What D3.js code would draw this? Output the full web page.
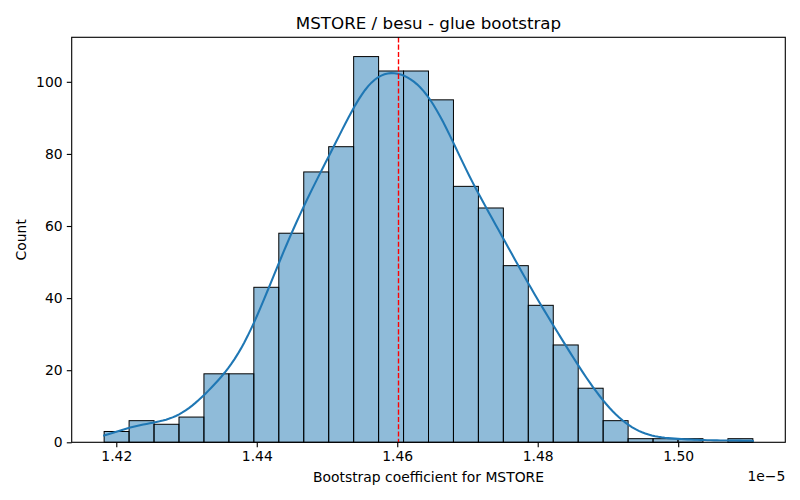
<!DOCTYPE html>
<html><head><meta charset="utf-8">
<script src="https://cdn.jsdelivr.net/npm/d3@7"></script>
<style>body{margin:0;background:#fff} svg text{font-family:"DejaVu Sans",sans-serif;fill:#000}</style>
</head><body><svg id="c" width="800" height="500"></svg>
<script>
// ---- data ----
const binStart = 1.41827;   // x1e-5
const binEnd = 1.51063;
const counts = [3,6,5,7,19,19,43,58,75,82,107,103,103,95,71,65,49,38,27,15,6,1,1,1,0,1];
const xTicks = [1.42,1.44,1.46,1.48,1.50];
const yTicks = [0,20,40,60,80,100];
const refLine = 1.46018;
const title = "MSTORE / besu - glue bootstrap";
const xLabel = "Bootstrap coefficient for MSTORE";
const yLabel = "Count";
const offsetText = "1e\u22125";

// ---- layout ----
const L = 71.7, R = 785.3, T = 37.3, B = 442.3;
const svg = d3.select("#c");
const nb = counts.length;
const bw = (binEnd - binStart) / nb;
const bins = counts.map((c, i) => ({x0: binStart + i*bw, x1: binStart + (i+1)*bw, c}));
const pad = (binEnd - binStart) * 0.05;
const x = d3.scaleLinear().domain([binStart - pad, binEnd + pad]).range([L, R]);
const y = d3.scaleLinear().domain([0, d3.max(counts)*1.05]).range([B, T]);

// bars
svg.append("g").selectAll("rect").data(bins).join("rect")
  .attr("x", d => x(d.x0)).attr("width", d => x(d.x1) - x(d.x0))
  .attr("y", d => y(d.c)).attr("height", d => B - y(d.c))
  .attr("fill", "#1f77b4").attr("fill-opacity", 0.5)
  .attr("stroke", "#000").attr("stroke-width", 1);

// KDE from the binned counts (gaussian, Scott bandwidth, cut=0)
const n = d3.sum(counts);
const centers = bins.map(b => (b.x0 + b.x1)/2);
const mean = d3.sum(bins, (b,i) => b.c*centers[i]) / n;
const variance = d3.sum(bins, (b,i) => b.c*(centers[i]-mean)**2) / (n-1);
const h = Math.sqrt(variance) * Math.pow(n, -1/5);
const grid = d3.range(200).map(i => binStart + (binEnd - binStart)*i/199);
const kde = grid.map(g => {
  let s = 0;
  bins.forEach((b,i) => { const z = (g - centers[i])/h; s += b.c*Math.exp(-0.5*z*z); });
  const dens = s / (n*h*Math.sqrt(2*Math.PI));
  return [g, dens*n*bw];
});
svg.append("path").datum(kde)
  .attr("d", d3.line().x(d => x(d[0])).y(d => y(d[1])))
  .attr("fill", "none").attr("stroke", "#1f77b4").attr("stroke-width", 2.08)
  .attr("stroke-linecap", "square");

// reference line
svg.append("line").attr("x1", x(refLine)).attr("x2", x(refLine))
  .attr("y1", T).attr("y2", B)
  .attr("stroke", "red").attr("stroke-width", 1.39).attr("stroke-dasharray", "5.1,2.2");

// frame
svg.append("rect").attr("x", L).attr("y", T).attr("width", R-L).attr("height", B-T)
  .attr("fill", "none").attr("stroke", "#000").attr("stroke-width", 1.11);

// axes
const xa = svg.append("g").attr("transform", `translate(0,${B})`)
  .call(d3.axisBottom(x).tickValues(xTicks).tickFormat(d3.format(".2f")).tickSize(4.9).tickPadding(4.2));
const ya = svg.append("g").attr("transform", `translate(${L},0)`)
  .call(d3.axisLeft(y).tickValues(yTicks).tickFormat(d3.format("d")).tickSize(4.9).tickPadding(4.2));
[xa, ya].forEach(a => {
  a.select(".domain").remove();
  a.selectAll(".tick line").attr("stroke", "#000").attr("stroke-width", 1.11);
  a.selectAll(".tick text").attr("font-size", "13.9px").attr("font-family", "DejaVu Sans").attr("fill", "#000");
});

// texts
svg.append("text").attr("x", (L+R)/2).attr("y", 28.7).attr("text-anchor", "middle")
  .attr("font-size", "16.7px").text(title);
svg.append("text").attr("x", (L+R)/2).attr("y", 482).attr("text-anchor", "middle")
  .attr("font-size", "13.9px").text(xLabel);
svg.append("text").attr("transform", `translate(26,${(T+B)/2}) rotate(-90)`).attr("text-anchor", "middle")
  .attr("font-size", "13.9px").text(yLabel);
svg.append("text").attr("x", R).attr("y", 480.7).attr("text-anchor", "end")
  .attr("font-size", "13.9px").text(offsetText);
</script></body></html>
